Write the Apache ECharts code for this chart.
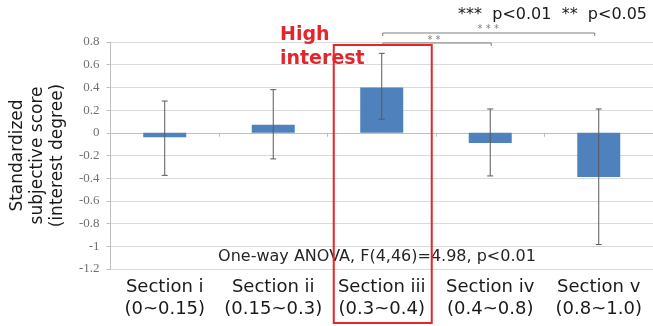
<!DOCTYPE html>
<html>
<head>
<meta charset="utf-8">
<script src="https://cdn.jsdelivr.net/npm/echarts@6/dist/echarts.min.js"></script>
<style>
  html, body { margin: 0; padding: 0; background: #fff; }
  #chart { width: 653px; height: 326px; }
</style>
</head>
<body>
<div id="chart"></div>
<script>
const sectionNames = ['Section i', 'Section ii', 'Section iii', 'Section iv', 'Section v'];
const sectionRanges = ['(0~0.15)', '(0.15~0.3)', '(0.3~0.4)', '(0.4~0.8)', '(0.8~1.0)'];
const means = [-0.04, 0.07, 0.40, -0.09, -0.39];
const errLow = [-0.375, -0.23, 0.12, -0.38, -0.985];
const errHigh = [0.28, 0.38, 0.70, 0.21, 0.21];
const yMin = -1.2, yMax = 0.8, yStep = 0.2;

const categories = sectionNames.map((n, i) => n + '\n' + sectionRanges[i]);
const errData = means.map((m, i) => [i, errLow[i], errHigh[i]]);

const chart = echarts.init(document.getElementById('chart'), null, { renderer: 'canvas' });

const option = {
  animation: false,
  backgroundColor: '#ffffff',
  grid: { left: 107, right: -1, top: 42, bottom: 57 },
  xAxis: [
    {
      type: 'category',
      data: categories,
      axisLine: { show: false, onZero: false },
      axisTick: { show: false },
      axisLabel: {
        margin: 7,
        fontFamily: 'DejaVu Sans',
        fontSize: 18,
        lineHeight: 22,
        color: '#1a1a1a',
        interval: 0
      },
      splitLine: { show: false }
    },
    {
      type: 'category',
      data: categories,
      position: 'bottom',
      axisLine: { show: true, onZero: true, lineStyle: { color: '#bfbfbf', width: 1 } },
      axisTick: { show: true, length: 4, lineStyle: { color: '#bfbfbf' } },
      axisLabel: { show: false },
      splitLine: { show: false }
    }
  ],
  yAxis: {
    type: 'value',
    min: yMin,
    max: yMax,
    interval: yStep,
    axisLine: { show: true, lineStyle: { color: '#bfbfbf' } },
    axisTick: { show: true, length: 4, lineStyle: { color: '#bfbfbf' } },
    axisLabel: {
      margin: 11,
      fontFamily: 'Liberation Serif',
      fontSize: 13,
      color: '#707070',
      formatter: v => String(Number(v.toFixed(1)))
    },
    splitLine: { show: true, lineStyle: { color: '#d9d9d9', width: 1 } },
    name: 'Standardized\nsubjective score\n(interest degree)',
    nameLocation: 'middle',
    nameRotate: 90,
    nameGap: 40,
    nameTextStyle: {
      fontFamily: 'DejaVu Sans',
      fontSize: 17,
      lineHeight: 20,
      color: '#1a1a1a'
    }
  },
  series: [
    {
      type: 'bar',
      data: means,
      barWidth: 43,
      itemStyle: { color: '#4f81bd' },
      xAxisIndex: 0,
      z: 2
    },
    {
      type: 'custom',
      data: errData,
      xAxisIndex: 0,
      z: 3,
      renderItem: function (params, api) {
        const x = api.value(0);
        const lo = api.coord([x, api.value(1)]);
        const hi = api.coord([x, api.value(2)]);
        const cap = 3;
        const style = { stroke: '#5a5a5a', lineWidth: 1 };
        return {
          type: 'group',
          children: [
            { type: 'line', shape: { x1: hi[0], y1: hi[1], x2: lo[0], y2: lo[1] }, style: style },
            { type: 'line', shape: { x1: hi[0] - cap, y1: hi[1], x2: hi[0] + cap, y2: hi[1] }, style: style },
            { type: 'line', shape: { x1: lo[0] - cap, y1: lo[1], x2: lo[0] + cap, y2: lo[1] }, style: style }
          ]
        };
      }
    }
  ]
};

chart.setOption(option);

// annotations positioned from the axes
const cx = i => chart.convertToPixel({ xAxisIndex: 0 }, i);
const c2 = cx(2), c3 = cx(3), c4 = cx(4);
const bracketStyle = { stroke: '#7f7f7f', lineWidth: 1, fill: null };
const yTop = 33, yLow = 43;

chart.setOption({
  graphic: [
    // significance brackets
    { type: 'polyline', shape: { points: [[c2 + 1, yTop + 3], [c2 + 1, yTop], [c4 - 4, yTop], [c4 - 4, yTop + 3]] }, style: bracketStyle, z: 10 },
    { type: 'text', style: { text: '* * *', x: (c2 + c4) / 2 - 2, y: yTop + 1, textAlign: 'center', textVerticalAlign: 'bottom', fontFamily: 'DejaVu Sans', fontSize: 10, fill: '#7f7f7f' }, z: 10 },
    { type: 'polyline', shape: { points: [[c2 + 1, yLow + 3], [c2 + 1, yLow], [c3 + 1, yLow], [c3 + 1, yLow + 3]] }, style: bracketStyle, z: 10 },
    { type: 'text', style: { text: '* *', x: (c2 + c3) / 2 - 2, y: yLow + 2, textAlign: 'center', textVerticalAlign: 'bottom', fontFamily: 'DejaVu Sans', fontSize: 10, fill: '#7f7f7f' }, z: 10 },
    // legend for significance
    { type: 'text', style: { text: '***  p<0.01  **  p<0.05', x: 647, y: 15, textAlign: 'right', textVerticalAlign: 'middle', fontFamily: 'DejaVu Sans', fontSize: 16, fill: '#1a1a1a' }, z: 10 },
    // red highlight box
    { type: 'rect', shape: { x: c2 - 48, y: 45, width: 98, height: 278 }, style: { stroke: '#e3262b', lineWidth: 2, fill: null }, z: 11 },
    { type: 'text', style: { text: 'High\ninterest', x: 280, y: 23, textAlign: 'left', textVerticalAlign: 'top', fontFamily: 'DejaVu Sans', fontWeight: 'bold', fontSize: 19, lineHeight: 24, fill: '#e3262b' }, z: 12 },
    // ANOVA note
    { type: 'text', style: { text: 'One-way ANOVA, F(4,46)=4.98, p<0.01', x: 377, y: 257, textAlign: 'center', textVerticalAlign: 'middle', fontFamily: 'DejaVu Sans', fontSize: 16, fill: '#262626' }, z: 10 }
  ]
});
</script>
</body>
</html>
